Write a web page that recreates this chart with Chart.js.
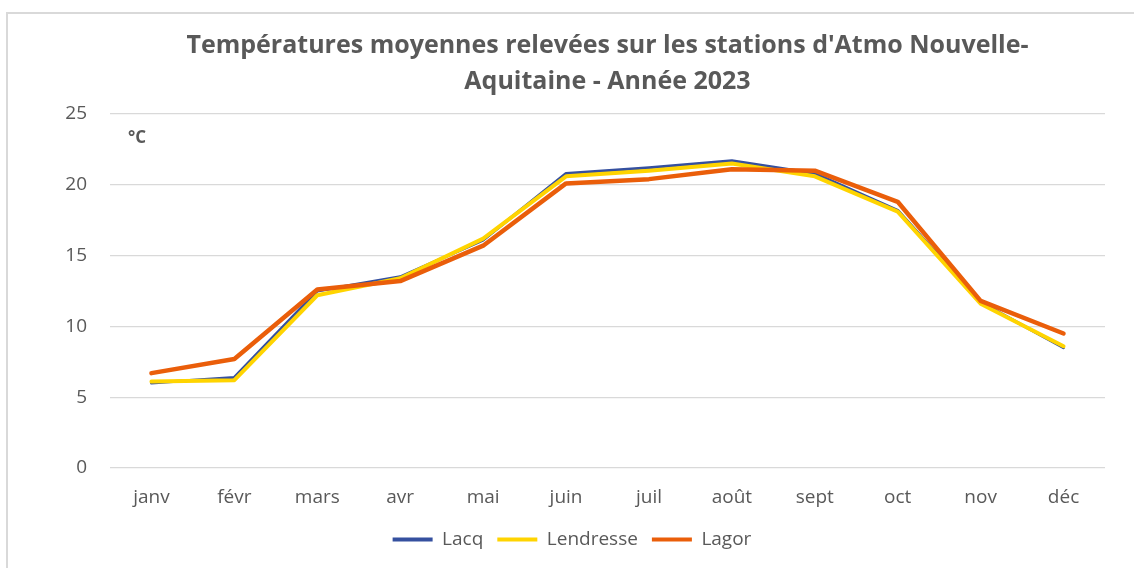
<!DOCTYPE html>
<html lang="fr">
  <head>
    <meta charset="UTF-8" />
    <title>Températures moyennes 2023</title>
    <script src="https://cdn.jsdelivr.net/npm/chart.js@4.4.1/dist/chart.umd.min.js"></script>
    <style>
      html, body {
        margin: 0;
        padding: 0;
        background: #ffffff;
        overflow: hidden;
      }
      .chart-frame {
        position: absolute;
        left: 6px;
        top: 12px;
        width: 1200px;
        height: 600px;
        border: 2px solid #d9d9d9;
        background: #ffffff;
      }
      #tempChart {
        display: block;
      }
    </style>
  </head>
  <body>
    <div class="chart-frame">
      <canvas id="tempChart" width="1128" height="556"></canvas>
    </div>

    <script>
      const months = ["janv", "févr", "mars", "avr", "mai", "juin", "juil", "août", "sept", "oct", "nov", "déc"];

      // mean monthly temperature (°C) per station
      const lacq = [6.0, 6.4, 12.5, 13.5, 16.1, 20.8, 21.2, 21.7, 20.8, 18.2, 11.7, 8.5];
      const lendresse = [6.1, 6.2, 12.2, 13.4, 16.2, 20.6, 21.0, 21.5, 20.6, 18.1, 11.6, 8.6];
      const lagor = [6.7, 7.7, 12.6, 13.2, 15.7, 20.1, 20.4, 21.1, 21.0, 18.8, 11.8, 9.5];

      const textGrey = "#595959";
      const gridGrey = "#d9d9d9";

      // small bold unit label in the top-left corner of the plot
      const unitLabel = {
        id: "unitLabel",
        afterDraw(chart) {
          const { ctx, chartArea } = chart;
          ctx.save();
          ctx.font = "bold 17px 'Open Sans'";
          ctx.fillStyle = textGrey;
          ctx.textBaseline = "middle";
          ctx.fillText("°C", chartArea.left + 18, chartArea.top + 24);
          ctx.restore();
        },
      };

      const series = [
        { label: "Lacq", data: lacq, color: "#35509f", width: 3 },
        { label: "Lendresse", data: lendresse, color: "#ffd400", width: 4 },
        { label: "Lagor", data: lagor, color: "#ea5e0a", width: 4.5 },
      ];

      const datasets = series.map((s, i) => ({
        label: s.label,
        data: s.data,
        borderColor: s.color,
        backgroundColor: s.color,
        borderWidth: s.width,
        borderJoinStyle: "round",
        borderCapStyle: "round",
        pointRadius: 0,
        tension: 0,
        order: series.length - i,
      }));

      new Chart(document.getElementById("tempChart"), {
        type: "line",
        data: { labels: months, datasets },
        plugins: [unitLabel],
        options: {
          responsive: false,
          animation: false,
          layout: { padding: { left: 0, right: 0, top: 0, bottom: 11 } },
          plugins: {
            title: {
              display: true,
              fullSize: false,
              text: ["Températures moyennes relevées sur les stations d'Atmo Nouvelle-", "Aquitaine - Année 2023"],
              color: textGrey,
              font: { family: "'Open Sans'", size: 25, weight: "bold", lineHeight: 36 / 25 },
              padding: { top: 14, bottom: 14 },
            },
            legend: {
              position: "bottom",
              labels: {
                color: textGrey,
                font: { family: "'Open Sans'", size: 19 },
                boxWidth: 40,
                boxHeight: 4,
                padding: 14,
                generateLabels(chart) {
                  return chart.data.datasets.map((ds, i) => ({
                    text: ds.label,
                    fillStyle: ds.borderColor,
                    strokeStyle: ds.borderColor,
                    lineWidth: 0,
                    fontColor: textGrey,
                    datasetIndex: i,
                    hidden: false,
                  }));
                },
              },
            },
            tooltip: { enabled: false },
          },
          scales: {
            x: {
              offset: true,
              grid: { display: false, drawTicks: false },
              border: { display: false },
              ticks: {
                color: textGrey,
                font: { family: "'Open Sans'", size: 19 },
                padding: 18,
                maxRotation: 0,
              },
              afterFit(scale) {
                scale.height = 48;
              },
            },
            y: {
              min: 0,
              max: 25,
              grid: { color: gridGrey, lineWidth: 1.3, drawTicks: false },
              border: { display: false },
              ticks: {
                stepSize: 5,
                color: textGrey,
                font: { family: "'Open Sans'", size: 19 },
                padding: 23,
              },
              afterFit(scale) {
                scale.width = 102;
              },
            },
            // empty right-hand spacer so the plot stops short of the frame
            spacer: {
              axis: "y",
              position: "right",
              min: 0,
              max: 25,
              grid: { display: false },
              border: { display: false },
              ticks: { display: false },
              afterFit(scale) {
                scale.width = 31;
              },
            },
          },
        },
      });
    </script>
  </body>
</html>
